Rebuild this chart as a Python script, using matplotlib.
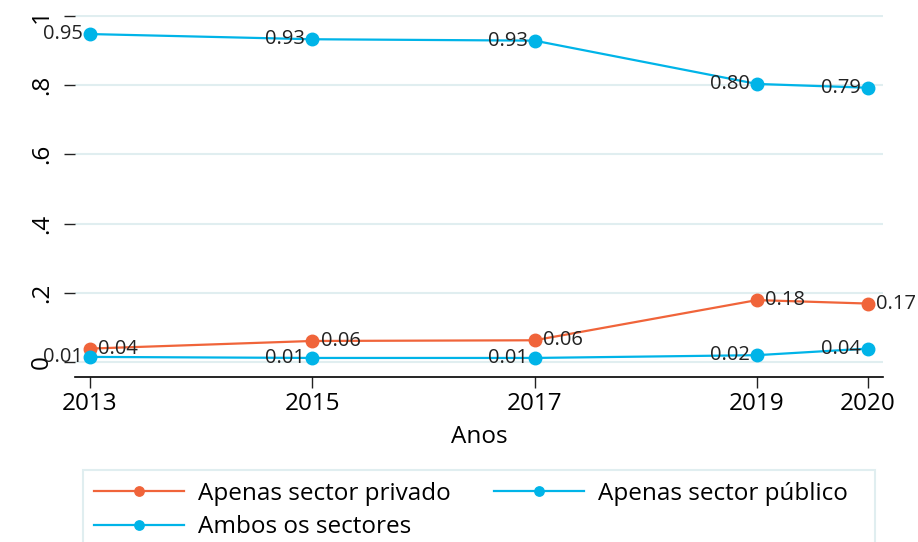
import matplotlib.pyplot as plt
from matplotlib.patches import Rectangle

anos = [2013, 2015, 2017, 2019, 2020]
privado = [0.039, 0.061, 0.063, 0.179, 0.169]
publico = [0.947, 0.932, 0.928, 0.803, 0.792]
ambos = [0.015, 0.012, 0.012, 0.020, 0.039]

c_priv = '#f0643a'
c_pub = '#00b4e8'
grid_c = '#e0eef0'

plt.rcParams['font.family'] = ['Open Sans', 'DejaVu Sans']

fig = plt.figure(figsize=(9.18, 5.42), dpi=100)
ax = fig.add_axes([75/918, 1 - 377/542, 808/918, 362/542])

for y in [0, .2, .4, .6, .8, 1]:
    ax.axhline(y, color=grid_c, lw=1.5, zorder=0)

l1, = ax.plot(anos, privado, color=c_priv, lw=1.6, marker='o', ms=9, label='Apenas sector privado', zorder=3)
l2, = ax.plot(anos, publico, color=c_pub, lw=1.6, marker='o', ms=9, label='Apenas sector público', zorder=3)
l3, = ax.plot(anos, ambos, color=c_pub, lw=1.6, marker='o', ms=9, label='Ambos os sectores', zorder=3)

for x, v in zip(anos, privado):
    ax.annotate(f'{v:.2f}', (x, v), xytext=(6, 0), textcoords='offset points',
                ha='left', va='center', fontsize=14.5, color='#222222')
for serie in (publico, ambos):
    for x, v in zip(anos, serie):
        ax.annotate(f'{v:.2f}', (x, v), xytext=(-5, 0), textcoords='offset points',
                    ha='right', va='center', fontsize=14.5, color='#222222')

ax.set_xlim(2012.865, 2020.135)
ax.set_ylim(-0.043, 1.002)
ax.set_xticks(anos)
ax.set_xticklabels([str(a) for a in anos], fontsize=17.5)
ax.set_yticks([0, .2, .4, .6, .8, 1])
ax.set_yticklabels(['0', '.2', '.4', '.6', '.8', '1'], fontsize=17.5, rotation=90, va='center')
ax.tick_params(axis='y', length=8, width=1, pad=7, color='#222222')
ax.tick_params(axis='x', length=8, width=1, pad=3, color='#222222')
for s in ['top', 'right', 'left']:
    ax.spines[s].set_visible(False)
ax.spines['bottom'].set_linewidth(1.2)
ax.set_xlabel('Anos', fontsize=17.5, labelpad=6)

# legend frame runs off the bottom of the image
fig.patches.append(Rectangle((83/918, -0.1), 792/918, 0.1 + 1 - 470/542,
                             transform=fig.transFigure, fill=False,
                             edgecolor=grid_c, lw=1.5))
leg = fig.legend([l1, l3, l2], [l1.get_label(), l3.get_label(), l2.get_label()],
                 loc='upper left', ncol=2, bbox_to_anchor=(83/918, 1 - 471/542),
                 fontsize=17.5, handlelength=3.7, markerscale=0.75, frameon=False,
                 borderpad=0.45, borderaxespad=0, labelspacing=0.38, columnspacing=1.75,
                 handletextpad=0.6)

fig.savefig('out.png', dpi=100)
